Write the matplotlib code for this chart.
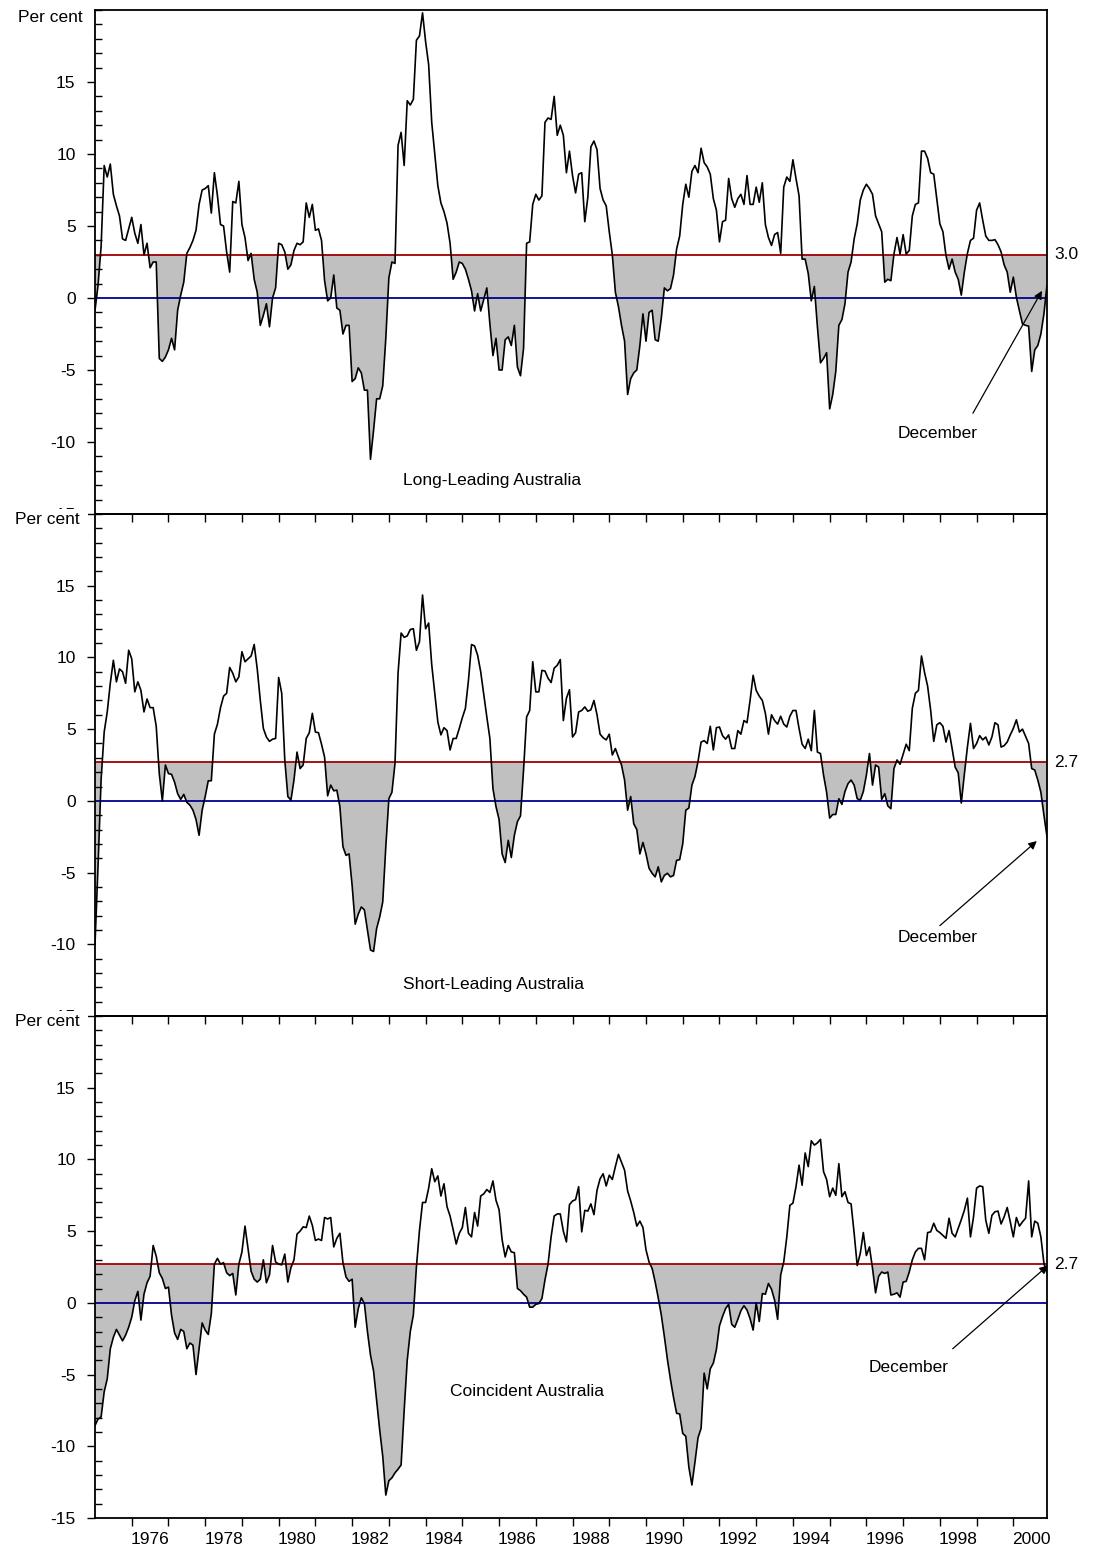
import numpy as np
import matplotlib
matplotlib.use("Agg")
import matplotlib.pyplot as plt
from matplotlib.ticker import MultipleLocator, FixedLocator, FixedFormatter, NullFormatter
from matplotlib.patches import Rectangle

plt.rcParams['font.family'] = ['Liberation Sans', 'DejaVu Sans']
plt.rcParams['axes.unicode_minus'] = False

# monthly growth rates, Jan 1975 - Dec 2000 (per cent)
start_year = 1975

long_leading = [
    -0.85, 0.9, 3.6, 9.2, 8.4, 9.3, 7.2, 6.4, 5.7, 4.1,
    4.0, 4.8, 5.6, 4.5, 3.8, 5.1, 3.0, 3.8, 2.1, 2.5,
    2.5, -4.2, -4.4, -4.1, -3.6, -2.8, -3.6, -0.85, 0.2, 1.1,
    3.1, 3.5, 4.0, 4.7, 6.5, 7.5, 7.6, 7.8, 5.9, 8.7,
    7.1, 5.1, 5.0, 3.2, 1.8, 6.7, 6.6, 8.1, 5.1, 4.2,
    2.6, 3.1, 1.3, 0.4, -1.9, -1.2, -0.4, -2.0, 0.0, 0.7,
    3.8, 3.7, 3.2, 2.0, 2.3, 3.3, 3.8, 3.7, 3.9, 6.6,
    5.6, 6.5, 4.7, 4.8, 4.0, 1.2, -0.2, 0.0, 1.6, -0.7,
    -0.85, -2.5, -1.9, -1.9, -5.8, -5.6, -4.85, -5.2, -6.4, -6.4,
    -11.2, -9.2, -7.0, -7.0, -6.1, -2.8, 1.4, 2.5, 2.4, 10.6,
    11.5, 9.2, 13.7, 13.4, 13.8, 17.9, 18.2, 19.8, 17.8, 16.2,
    12.2, 10.0, 7.8, 6.6, 6.0, 5.2, 3.8, 1.3, 1.8, 2.5,
    2.4, 2.0, 1.3, 0.5, -0.9, 0.3, -0.9, -0.1, 0.7, -1.8,
    -4.0, -2.8, -5.0, -5.0, -2.9, -2.7, -3.3, -1.9, -4.8, -5.4,
    -3.5, 3.8, 3.9, 6.5, 7.2, 6.8, 7.1, 12.2, 12.5, 12.4,
    14.0, 11.3, 12.0, 11.3, 8.7, 10.2, 8.5, 7.3, 8.6, 8.7,
    5.3, 7.0, 10.5, 10.9, 10.3, 7.6, 6.8, 6.4, 4.6, 3.0,
    0.4, -0.6, -1.9, -3.0, -6.7, -5.6, -5.2, -5.0, -3.3, -1.1,
    -3.0, -1.0, -0.85, -2.9, -3.0, -1.4, 0.7, 0.5, 0.65, 1.6,
    3.4, 4.3, 6.5, 7.9, 7.0, 8.8, 9.2, 8.7, 10.4, 9.4,
    9.1, 8.6, 6.9, 6.1, 3.9, 5.3, 5.4, 8.3, 6.9, 6.3,
    6.9, 7.2, 6.5, 8.5, 6.5, 6.5, 7.7, 6.65, 8.0, 5.1,
    4.2, 3.65, 4.4, 4.55, 3.1, 7.7, 8.4, 8.1, 9.6, 8.3,
    7.1, 2.7, 2.7, 1.7, -0.2, 0.8, -2.0, -4.5, -4.2, -3.8,
    -7.7, -6.7, -5.1, -1.9, -1.5, -0.4, 1.8, 2.5, 4.1, 5.15,
    6.8, 7.5, 7.9, 7.6, 7.2, 5.7, 5.15, 4.6, 1.1, 1.3,
    1.2, 3.05, 4.2, 3.05, 4.4, 3.05, 3.3, 5.7, 6.5, 6.6,
    10.2, 10.2, 9.7, 8.7, 8.6, 6.9, 5.15, 4.6, 2.95, 2.0,
    2.7, 1.8, 1.3, 0.2, 1.8, 3.1, 4.0, 4.15, 6.1, 6.6,
    5.4, 4.3, 4.0, 4.0, 4.05, 3.7, 3.2, 2.3, 1.8, 0.4,
    1.45, 0.05, -0.9, -1.8, -1.9, -1.95, -5.1, -3.6, -3.3, -2.5,
    -1.1, 0.9,
]

short_leading = [
    -10.0, -4.5, 1.5, 4.8, 6.2, 8.2, 9.8, 8.3, 9.2, 9.0,
    8.2, 10.5, 9.9, 7.6, 8.3, 7.7, 6.2, 7.1, 6.5, 6.5,
    5.2, 1.9, 0.0, 2.5, 1.9, 1.85, 1.3, 0.5, 0.1, 0.45,
    -0.1, -0.3, -0.65, -1.3, -2.4, -0.65, 0.3, 1.4, 1.4, 4.65,
    5.35, 6.5, 7.3, 7.5, 9.3, 8.9, 8.3, 8.65, 10.4, 9.7,
    9.9, 10.1, 10.9, 9.2, 7.0, 5.05, 4.45, 4.15, 4.3, 4.35,
    8.6, 7.5, 2.85, 0.3, 0.05, 1.45, 3.4, 2.25, 2.5, 4.35,
    4.75, 6.1, 4.8, 4.75, 3.95, 3.05, 0.35, 1.1, 0.7, 0.75,
    -0.4, -3.2, -3.8, -3.7, -5.9, -8.6, -7.9, -7.4, -7.6, -9.0,
    -10.4, -10.5, -8.9, -8.1, -7.05, -3.2, 0.15, 0.6, 2.6, 8.9,
    11.7, 11.4, 11.5, 11.95, 12.0, 10.5, 11.1, 14.35, 12.0, 12.4,
    9.5, 7.5, 5.5, 4.6, 5.1, 4.9, 3.55, 4.35, 4.35, 5.05,
    5.8, 6.45, 8.4, 10.9, 10.8, 10.15, 9.0, 7.4, 5.85, 4.35,
    0.85, -0.4, -1.3, -3.7, -4.3, -2.75, -3.95, -2.4, -1.45, -1.05,
    2.15, 5.85, 6.3, 9.7, 7.6, 7.6, 9.1, 9.05, 8.55, 8.25,
    9.25, 9.45, 9.85, 5.6, 7.15, 7.75, 4.45, 4.75, 6.2, 6.3,
    6.55, 6.25, 6.35, 7.0, 6.0, 4.65, 4.4, 4.25, 4.65, 3.2,
    3.65, 3.05, 2.5, 1.45, -0.65, 0.3, -1.6, -2.0, -3.7, -2.9,
    -3.7, -4.7, -5.05, -5.3, -4.6, -5.65, -5.2, -5.05, -5.3, -5.2,
    -4.15, -4.1, -3.0, -0.65, -0.5, 1.1, 1.7, 2.75, 4.1, 4.2,
    4.0, 5.2, 3.55, 5.1, 5.15, 4.55, 4.3, 4.6, 3.65, 3.65,
    4.9, 4.65, 5.6, 5.45, 7.0, 8.75, 7.7, 7.3, 7.0, 6.1,
    4.65, 6.0, 5.6, 5.35, 5.9, 5.35, 5.15, 5.9, 6.3, 6.3,
    5.05, 3.95, 3.65, 4.3, 3.5, 6.3, 3.4, 3.3, 1.8, 0.6,
    -1.2, -0.95, -0.95, 0.15, -0.25, 0.65, 1.2, 1.45, 1.1, 0.15,
    0.05, 0.65, 1.8, 3.3, 1.1, 2.5, 2.35, 0.1, 0.5, -0.35,
    -0.55, 2.25, 2.85, 2.55, 3.25, 3.95, 3.5, 6.45, 7.5, 7.7,
    10.1, 8.95, 8.0, 6.3, 4.15, 5.3, 5.45, 5.2, 4.1, 4.9,
    3.65, 2.35, 1.95, -0.15, 1.85, 3.75, 5.4, 3.65, 4.0, 4.55,
    4.25, 4.45, 3.9, 4.45, 5.45, 5.3, 3.75, 3.85, 4.1, 4.6,
    5.05, 5.65, 4.8, 5.0, 4.5, 4.0, 2.25, 2.15, 1.45, 0.6,
    -1.0, -2.5,
]

coincident = [
    -8.55, -8.1, -7.95, -6.2, -5.3, -3.2, -2.4, -1.85, -2.25, -2.65,
    -2.25, -1.7, -1.0, 0.15, 0.8, -1.2, 0.6, 1.4, 1.85, 4.0,
    3.25, 2.1, 1.7, 1.0, 1.1, -0.85, -2.1, -2.55, -1.85, -2.0,
    -3.2, -2.8, -2.95, -5.0, -3.2, -1.4, -1.9, -2.2, -0.75, 2.7,
    3.1, 2.7, 2.8, 2.1, 1.9, 2.05, 0.55, 2.7, 3.55, 5.35,
    3.8, 2.2, 1.65, 1.45, 1.65, 3.0, 1.4, 1.95, 4.0, 2.85,
    2.7, 2.65, 3.4, 1.45, 2.45, 3.0, 4.8, 5.0, 5.3, 5.25,
    6.05, 5.4, 4.35, 4.45, 4.35, 5.95, 5.85, 5.95, 3.9, 4.5,
    4.85, 2.8, 1.8, 1.5, 1.65, -1.7, -0.4, 0.35, -0.05, -2.0,
    -3.65, -4.75, -6.8, -8.85, -10.7, -13.4, -12.4, -12.2, -11.85, -11.6,
    -11.3, -7.5, -4.0, -2.0, -0.85, 2.5, 5.05, 7.0, 7.0, 8.0,
    9.35, 8.45, 8.85, 7.45, 8.3, 6.7, 6.05, 5.1, 4.1, 4.85,
    5.25, 6.65, 4.85, 4.6, 6.3, 5.35, 7.45, 7.6, 7.9, 7.7,
    8.5, 7.15, 6.5, 4.4, 3.2, 4.0, 3.55, 3.5, 1.0, 0.85,
    0.6, 0.4, -0.3, -0.3, -0.1, -0.05, 0.3, 1.6, 2.7, 4.6,
    6.05, 6.2, 6.2, 5.0, 4.25, 6.85, 7.1, 7.2, 8.1, 4.95,
    6.45, 6.4, 6.9, 6.15, 7.85, 8.65, 9.0, 8.15, 8.9, 8.6,
    9.5, 10.35, 9.8, 9.25, 7.8, 7.1, 6.3, 5.35, 5.7, 5.25,
    3.7, 2.85, 2.4, 1.45, 0.35, -0.85, -2.35, -3.95, -5.35, -6.6,
    -7.7, -7.75, -9.1, -9.3, -11.45, -12.7, -11.1, -9.4, -8.75, -4.9,
    -6.0, -4.6, -4.2, -3.25, -1.6, -0.95, -0.4, -0.1, -1.5, -1.7,
    -1.15, -0.55, -0.2, -0.5, -1.1, -1.9, 0.0, -1.3, 0.65, 0.6,
    1.35, 0.95, 0.2, -1.15, 1.95, 2.85, 4.6, 6.8, 6.95, 8.1,
    9.6, 8.2, 10.45, 9.5, 11.3, 11.0, 11.15, 11.4, 9.15, 8.6,
    7.4, 8.0, 7.5, 9.7, 7.4, 7.75, 7.0, 6.9, 4.85, 2.6,
    3.45, 4.9, 3.3, 3.9, 2.4, 0.7, 1.85, 2.15, 2.05, 2.15,
    0.55, 0.6, 0.7, 0.4, 1.45, 1.5, 2.15, 3.0, 3.55, 3.8,
    3.8, 3.0, 4.9, 4.95, 5.55, 5.05, 4.9, 4.7, 4.5, 5.9,
    4.85, 4.6, 5.2, 5.8, 6.45, 7.3, 4.6, 6.0, 8.0, 8.15,
    8.1, 5.75, 4.85, 6.1, 6.35, 6.4, 5.5, 6.0, 6.65, 5.65,
    4.6, 5.95, 5.35, 5.65, 5.9, 8.5, 4.6, 5.7, 5.55, 4.6,
    2.75, 2.05,
]

thresholds = [3.0, 2.7, 2.7]
panel_names = ["Long-Leading Australia", "Short-Leading Australia", "Coincident Australia"]
year_labels = [str(y) for y in range(1976, 2001, 2)]

# text / arrow spots (data coords)
name_xy = [(1985.8, -12.7), (1985.85, -12.8), (1986.75, -6.2)]
dec_xy = [(1997.95, -9.4), (1997.95, -9.5), (1997.15, -4.5)]
arrow_from = [(1998.9, -8.0), (1998.0, -8.7), (1998.35, -3.2)]
arrow_to = [(2000.78, 0.5), (2000.64, -2.8), (2000.94, 2.6)]

series = [long_leading, short_leading, coincident]

W, H = 1103, 1548
fig = plt.figure(figsize=(W / 100, H / 100), dpi=100)

left_px, right_px = 95, 1047
boxes = [(10, 514), (514, 1016), (1016, 1518)]
percent_px = [(83, 17), (80, 519), (80, 1022)]
fs = 12.5

for k in range(3):
    top, bot = boxes[k]
    ax = fig.add_axes([left_px / W, 1 - bot / H, (right_px - left_px) / W, (bot - top) / H])
    ax.set_facecolor('none')

    vals = np.array(series[k])
    dates = start_year + np.arange(len(vals)) / 12.0
    thr = thresholds[k]

    ax.fill_between(dates, vals, thr, where=vals <= thr, interpolate=True,
                    facecolor='#c0c0c0', edgecolor='none', zorder=1)
    ax.axhline(thr, color='#a00000', lw=1.3, zorder=2)
    ax.axhline(0, color='#000090', lw=1.3, zorder=2)
    ax.plot(dates, vals, color='black', lw=1.2, zorder=3)

    ax.set_xlim(dates[0], dates[-1])
    ax.set_ylim(-15, 20)

    ax.yaxis.set_major_locator(FixedLocator([-15, -10, -5, 0, 5, 10, 15]))
    ax.yaxis.set_minor_locator(MultipleLocator(1))
    ax.tick_params(axis='y', which='major', direction='out', length=6, width=1,
                   labelsize=fs, pad=8)
    ax.tick_params(axis='y', which='minor', direction='in', length=5, width=1)

    ax.xaxis.set_major_locator(FixedLocator(list(range(1976, 2001))))
    ax.xaxis.set_major_formatter(NullFormatter())
    ax.tick_params(axis='x', which='major', direction='out', length=6, width=1)
    if k == 2:
        ax.xaxis.set_minor_locator(FixedLocator([y + 0.5 for y in range(1976, 2001, 2)]))
        ax.xaxis.set_minor_formatter(FixedFormatter(year_labels))
        ax.tick_params(axis='x', which='minor', length=0, labelsize=fs, pad=10)

    for sp in ax.spines.values():
        sp.set_linewidth(1.3)

    ax.text(name_xy[k][0], name_xy[k][1], panel_names[k], ha='center', va='center', fontsize=fs)
    ax.text(dec_xy[k][0], dec_xy[k][1], "December", ha='center', va='center', fontsize=fs)
    ax.annotate('', xy=arrow_to[k], xytext=arrow_from[k], annotation_clip=False,
                arrowprops=dict(arrowstyle='-|>', color='black', lw=0.9, mutation_scale=12,
                                shrinkA=0, shrinkB=0))
    ax.text(1.008, thr, f"{thr:.1f}", transform=ax.get_yaxis_transform(),
            ha='left', va='center', fontsize=fs)

    fig.text(percent_px[k][0] / W, 1 - percent_px[k][1] / H, "Per cent",
             ha='right', va='center', fontsize=fs)

# the -15 labels of the upper panels are mostly hidden under the next panel
for ycut in [509, 1011]:
    fig.add_artist(Rectangle((0, 1 - (ycut + 17) / H), 88 / W, 17 / H,
                             transform=fig.transFigure, facecolor='white',
                             edgecolor='none', zorder=1))

fig.savefig("out.png", dpi=100)
